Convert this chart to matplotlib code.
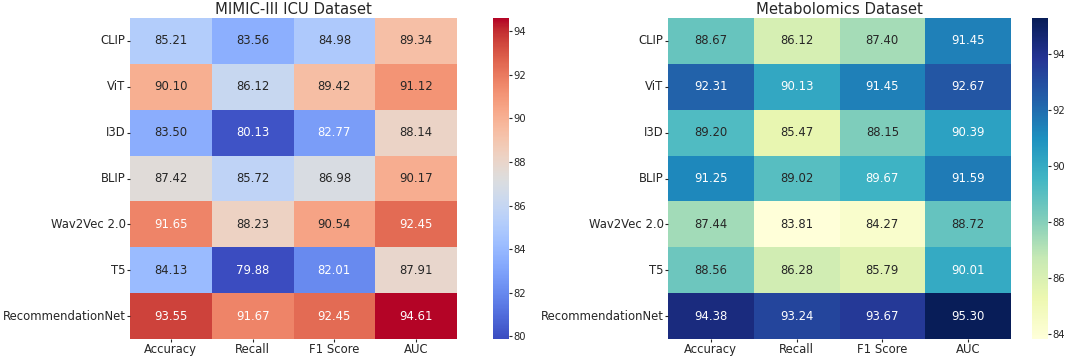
import matplotlib
matplotlib.use("Agg")
import matplotlib.pyplot as plt
import seaborn as sns
import pandas as pd

models = ["CLIP", "ViT", "I3D", "BLIP", "Wav2Vec 2.0", "T5", "RecommendationNet"]
metrics = ["Accuracy", "Recall", "F1 Score", "AUC"]

mimic_accuracy = [85.21, 90.10, 83.50, 87.42, 91.65, 84.13, 93.55]
mimic_recall = [83.56, 86.12, 80.13, 85.72, 88.23, 79.88, 91.67]
mimic_f1 = [84.98, 89.42, 82.77, 86.98, 90.54, 82.01, 92.45]
mimic_auc = [89.34, 91.12, 88.14, 90.17, 92.45, 87.91, 94.61]

metab_accuracy = [88.67, 92.31, 89.20, 91.25, 87.44, 88.56, 94.38]
metab_recall = [86.12, 90.13, 85.47, 89.02, 83.81, 86.28, 93.24]
metab_f1 = [87.40, 91.45, 88.15, 89.67, 84.27, 85.79, 93.67]
metab_auc = [91.45, 92.67, 90.39, 91.59, 88.72, 90.01, 95.30]

mimic = pd.DataFrame({"Accuracy": mimic_accuracy, "Recall": mimic_recall,
                      "F1 Score": mimic_f1, "AUC": mimic_auc}, index=models)[metrics]
metab = pd.DataFrame({"Accuracy": metab_accuracy, "Recall": metab_recall,
                      "F1 Score": metab_f1, "AUC": metab_auc}, index=models)[metrics]

W, H = 1065, 356
fig = plt.figure(figsize=(W / 100, H / 100), dpi=100)

def box(x0, y0, x1, y1):
    # pixel box -> figure fraction
    return [x0 / W, 1 - y1 / H, (x1 - x0) / W, (y1 - y0) / H]

ax1 = fig.add_axes(box(130, 18, 457, 339))
cax1 = fig.add_axes(box(493, 18, 509, 339))
ax2 = fig.add_axes(box(668, 18, 1011, 339))
cax2 = fig.add_axes(box(1032, 18, 1048, 339))

sns.heatmap(mimic, ax=ax1, cbar_ax=cax1, cmap="coolwarm", annot=True, fmt=".2f",
            annot_kws={"size": 8.4})
sns.heatmap(metab, ax=ax2, cbar_ax=cax2, cmap="YlGnBu", annot=True, fmt=".2f",
            annot_kws={"size": 8.4})

ax1.set_title("MIMIC-III ICU Dataset", fontsize=10.7, pad=3, color="#262626")
ax2.set_title("Metabolomics Dataset", fontsize=10.7, pad=3, color="#262626")

for ax in (ax1, ax2):
    ax.tick_params(labelsize=8.4, length=2, pad=1.2, colors="#262626")
    ax.set_yticklabels(ax.get_yticklabels(), rotation=0)
    ax.set_xticklabels(ax.get_xticklabels(), rotation=0)
for cax in (cax1, cax2):
    cax.tick_params(labelsize=7.2, length=2, pad=1, colors="#262626")

fig.savefig("out.png", dpi=100)
